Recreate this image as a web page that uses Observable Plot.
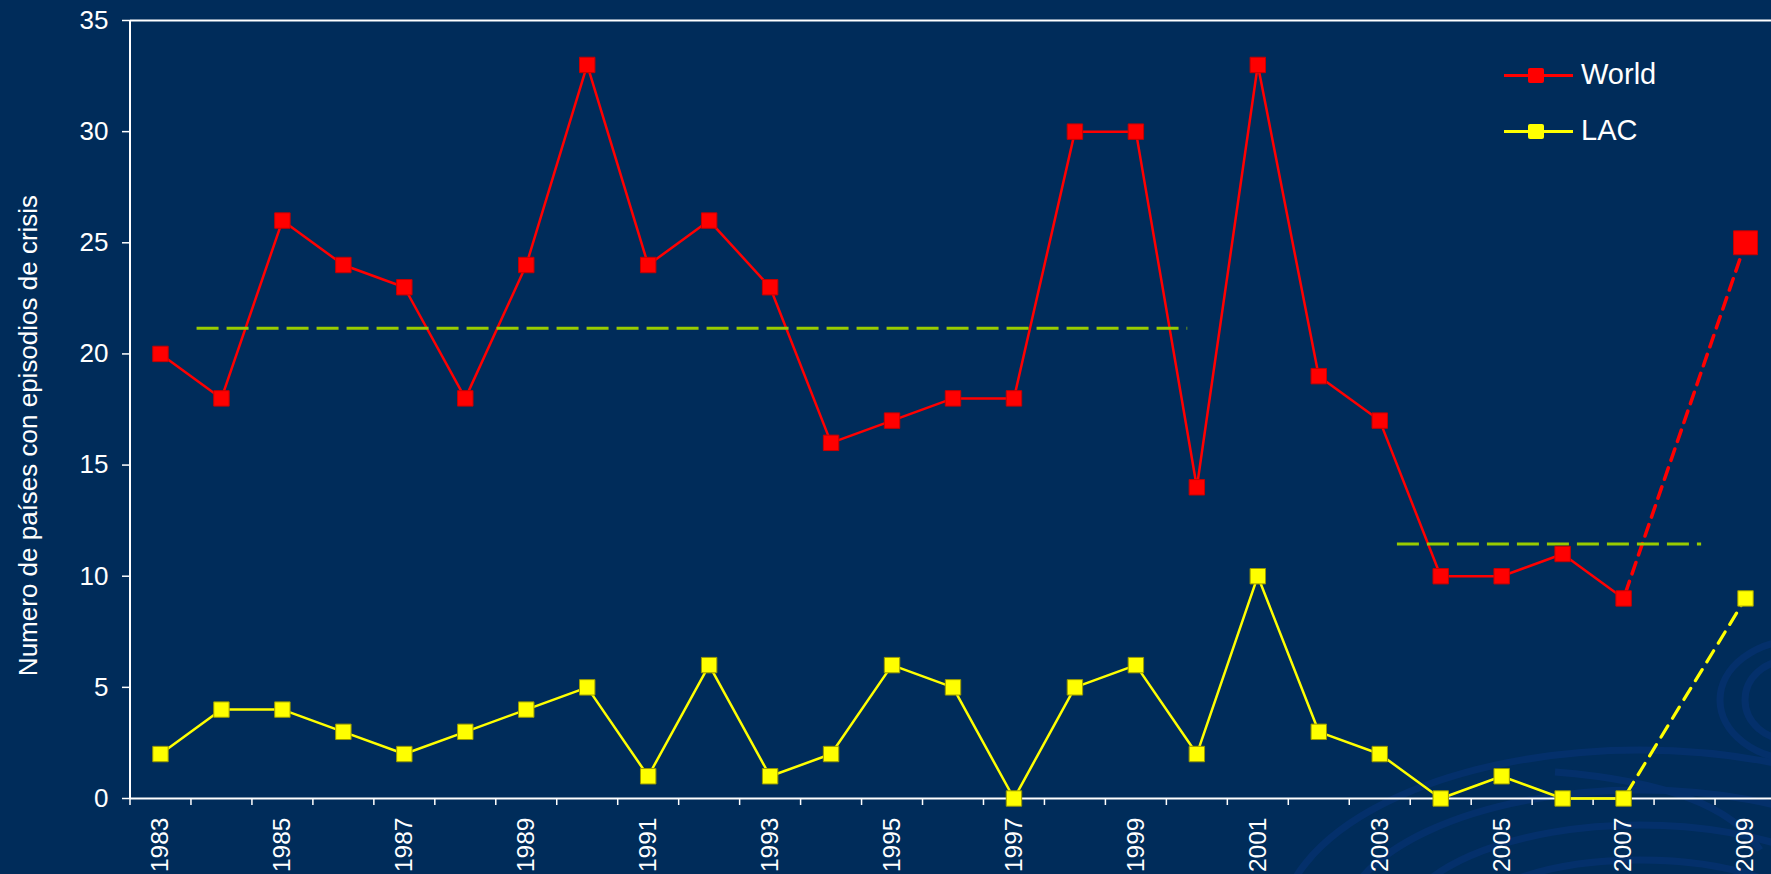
<!DOCTYPE html>
<html>
<head>
<meta charset="utf-8">
<script src="https://cdn.jsdelivr.net/npm/d3@7"></script>
<script src="https://cdn.jsdelivr.net/npm/@observablehq/plot@0.6"></script>
<style>
  html, body { margin: 0; padding: 0; background: #002C5A; }
  #chart { position: relative; width: 1771px; height: 874px; overflow: hidden; background: #002C5A; font-family: "Liberation Sans", Arial, sans-serif; }
  #deco { position: absolute; left: 0; top: 0; }
  .leg { position: absolute; left: 1504px; width: 260px; height: 30px; }
  .leg .ln { position: absolute; left: 0; width: 69px; height: 3px; top: 13px; }
  .leg .sq { position: absolute; left: 24px; width: 16px; height: 15px; top: 7px; border-radius: 2px; }
  .leg .tx { position: absolute; left: 77px; top: -4px; font-size: 29px; color: white; line-height: 34px; }
</style>
</head>
<body>
<div id="chart">
  <svg id="deco" width="1771" height="874" fill="none">
    <g stroke="#08357A" stroke-width="7" opacity="0.55">
      <ellipse cx="1640" cy="930" rx="180" ry="70"/>
      <ellipse cx="1640" cy="930" rx="240" ry="105"/>
      <ellipse cx="1640" cy="930" rx="300" ry="140"/>
      <ellipse cx="1640" cy="930" rx="360" ry="180"/>
      <path d="M1555 772 Q1720 785 1760 850"/>
      <ellipse cx="1790" cy="700" rx="45" ry="40"/>
      <ellipse cx="1800" cy="700" rx="80" ry="60"/>
    </g>
  </svg>
</div>
<script>
// ---- data ----
const years = [1983,1984,1985,1986,1987,1988,1989,1990,1991,1992,1993,1994,1995,1996,1997,1998,1999,2000,2001,2002,2003,2004,2005,2006,2007];
const world = [20,18,26,24,23,18,24,33,24,26,23,16,17,18,18,30,30,14,33,19,17,10,10,11,9];
const lac   = [2,4,4,3,2,3,4,5,1,6,1,2,6,5,0,5,6,2,10,3,2,0,1,0,0];
const projYears = [2007, 2009];
const worldProj = [9, 25];
const lacProj = [0, 9];
const avgFrom = [1983.6, 2003.29];
const avgTo = [1999.85, 2008.28];
const avgValue = [21.15, 11.45];
const yTicks = [0, 5, 10, 15, 20, 25, 30, 35];
const xTickLabels = [1983,1985,1987,1989,1991,1993,1995,1997,1999,2001,2003,2005,2007,2009];
const yLabel = "Numero de países con episodios de crisis";
const seriesNames = ["World", "LAC"];
const seriesColors = ["#FF0000", "#FFFF00"];

// ---- tables ----
const worldRows = years.map((year, i) => ({year, value: world[i]}));
const lacRows = years.map((year, i) => ({year, value: lac[i]}));
const worldProjRows = projYears.map((year, i) => ({year, value: worldProj[i]}));
const lacProjRows = projYears.map((year, i) => ({year, value: lacProj[i]}));
const avgRows = avgValue.map((value, i) => ({from: avgFrom[i], to: avgTo[i], value}));
const boundaries = d3.range(years[0] - 0.5, projYears[1] + 1, 1);

const chart = Plot.plot({
  width: 1771,
  height: 874,
  marginLeft: 130,
  marginRight: 0,
  marginTop: 20,
  marginBottom: 76,
  style: {background: "transparent", color: "white", fontFamily: "'Liberation Sans', Arial, sans-serif", overflow: "visible"},
  x: {domain: [1982.5, 2009.5], range: [129.5, 1775.5], axis: null},
  y: {domain: [0, 35], axis: null},
  marks: [
    // frame
    Plot.ruleY([0], {stroke: "white", strokeWidth: 2}),
    Plot.ruleY([35], {stroke: "white", strokeWidth: 2}),
    Plot.ruleX([1982.5], {stroke: "white", strokeWidth: 2}),
    // y axis
    Plot.axisY(yTicks, {tickSize: 8, tickPadding: 14, fontSize: 26, stroke: "white", fill: "white", strokeWidth: 1.5, label: null}),
    // x axis ticks at band boundaries
    Plot.axisX(boundaries, {tickSize: 7, tickFormat: () => "", stroke: "white", strokeWidth: 1.5, label: null}),
    // x axis labels
    Plot.axisX(xTickLabels, {tickSize: 0, tickPadding: 19, tickRotate: -90, fontSize: 24.5, fill: "white", tickFormat: d => String(d), label: null}),
    // y label
    Plot.text([yLabel], {frameAnchor: "left", textAnchor: "middle", rotate: -90, dx: -102, dy: 26, fontSize: 26, fill: "white", text: d => d}),
    // series lines
    Plot.line(worldRows, {x: "year", y: "value", stroke: seriesColors[0], strokeWidth: 2.5}),
    Plot.line(lacRows, {x: "year", y: "value", stroke: seriesColors[1], strokeWidth: 2.5}),
    Plot.line(worldProjRows, {x: "year", y: "value", stroke: seriesColors[0], strokeWidth: 3.5, strokeDasharray: "12,8", strokeDashoffset: -6}),
    Plot.line(lacProjRows, {x: "year", y: "value", stroke: seriesColors[1], strokeWidth: 3.2, strokeDasharray: "13,9", strokeDashoffset: -6}),
    // average lines
    Plot.ruleY(avgRows, {x1: "from", x2: "to", y: "value", stroke: "#99CC00", strokeWidth: 3, strokeDasharray: "22,8"}),
    // markers
    Plot.dot(worldRows, {x: "year", y: "value", symbol: "square", r: 8.7, fill: seriesColors[0], stroke: "#C80000", strokeWidth: 1}),
    Plot.dot(lacRows, {x: "year", y: "value", symbol: "square", r: 8.7, fill: seriesColors[1], stroke: "#9A9A00", strokeWidth: 1}),
    Plot.dot(worldProjRows.slice(1), {x: "year", y: "value", symbol: "square", r: 13.5, fill: seriesColors[0], stroke: "#C80000", strokeWidth: 1}),
    Plot.dot(lacProjRows.slice(1), {x: "year", y: "value", symbol: "square", r: 8.7, fill: seriesColors[1], stroke: "#9A9A00", strokeWidth: 1})
  ]
});
const container = document.getElementById("chart");
chart.style.position = "absolute";
chart.style.left = "0px";
chart.style.top = "0px";
container.appendChild(chart);

// legend
const legTops = [61, 117];
seriesNames.forEach((name, i) => {
  const item = document.createElement("div");
  item.className = "leg";
  item.style.top = legTops[i] + "px";
  item.innerHTML = `<div class="ln" style="background:${seriesColors[i]}"></div><div class="sq" style="background:${seriesColors[i]}"></div><div class="tx">${name}</div>`;
  container.appendChild(item);
});
</script>
</body>
</html>
